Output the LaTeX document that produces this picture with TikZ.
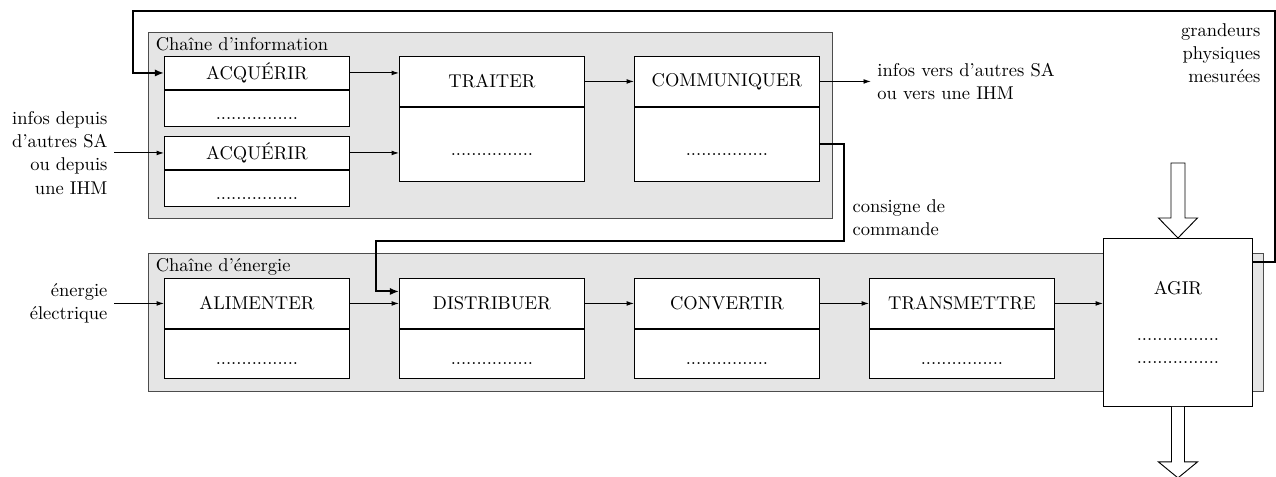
\documentclass[tikz,border=0pt]{standalone}
\usepackage{fontspec}
\usetikzlibrary{calc,arrows.meta}

% one drawing unit
\newcommand{\pxu}{0.5405pt}
% dotted placeholder line, lowered under the block centre
\newcommand{\pointille}{\raisebox{-6pt}[0pt][0pt]{................}}
% function block: name, x, y top, top height, bottom height, title
\newcommand{\blocfonction}[6]{%
  \node[fonction, anchor=north west, minimum height={#4*\pxu}] (#1) at (#2,#3) {#6};
  \node[fonction, anchor=north, minimum height={#5*\pxu}] (#1b) at (#1.south) {\pointille};
}

\begin{document}
\begin{tikzpicture}[x=\pxu, y=-\pxu,
  font=\fontsize{10}{12.5}\selectfont,
  fonction/.style={draw, fill=white, line width=0.5pt, minimum width={185*\pxu}, inner sep=0pt},
  groupe/.style={draw=black!70, fill=black!10, line width=0.6pt, inner sep=0pt},
  fleche/.style={-{Latex[length=4pt,width=2.6pt]}, line width=0.5pt},
  retour/.style={-{Latex[length=5pt,width=4pt]}, line width=1.1pt},
  creuse/.style={draw, fill=white, line width=0.5pt},
  titre/.style={anchor=north west, inner xsep=4pt, inner ysep=3pt}]

\useasboundingbox (0,0) rectangle (1276,477);

% the two chains
\node[groupe, anchor=north west, minimum width={684*\pxu}, minimum height={186*\pxu}] (info) at (148,32) {};
\node[titre] (infot) at (info.north west) {Chaîne d'information};
\node[groupe, anchor=north west, minimum width={1115*\pxu}, minimum height={138*\pxu}] (ener) at (148,253) {};
\node[titre] (enert) at (ener.north west) {Chaîne d'énergie};

% information chain
\blocfonction{acqA}{164}{56}{33}{36}{ACQUÉRIR}
\blocfonction{acqB}{164}{136}{33}{36}{ACQUÉRIR}
\blocfonction{trt}{399}{56}{50}{74}{TRAITER}
\blocfonction{com}{634}{56}{50}{74}{COMMUNIQUER}

% energy chain
\blocfonction{ali}{164}{278}{50}{49}{ALIMENTER}
\blocfonction{dis}{399}{278}{50}{49}{DISTRIBUER}
\blocfonction{cnv}{634}{278}{50}{49}{CONVERTIR}
\blocfonction{tra}{869}{278}{50}{49}{TRANSMETTRE}

% actuator
\node[fonction, minimum width={149*\pxu}, minimum height={168*\pxu}, anchor=north west, align=center] (agir) at (1103,238)
  {AGIR\\[12.5pt]................\\................};

% information flow
\draw[fleche] (acqA.east) -- (acqA.east -| trt.west);
\draw[fleche] (acqB.east) -- (acqB.east -| trt.west);
\draw[fleche] (trt.east) -- (com.west);
\node[anchor=west, align=left] (versSA) at ($(com.east)+(51,0)$) {infos vers d'autres SA\\ou vers une IHM};
\draw[fleche] (com.east) -- (versSA.west);
\node[anchor=east, align=right] (depuisSA) at ($(acqB.west)+(-50,0)$) {infos depuis\\d'autres SA\\ou depuis\\une IHM};
\draw[fleche] (depuisSA.east) -- (acqB.west);

% energy flow
\node[anchor=east, align=right] (elec) at ($(ali.west)+(-50,0)$) {énergie\\électrique};
\draw[fleche] (elec.east) -- (ali.west);
\draw[fleche] (ali.east) -- (dis.west);
\draw[fleche] (dis.east) -- (cnv.west);
\draw[fleche] (cnv.east) -- (tra.west);
\draw[fleche] (tra.east) -- (tra.east -| agir.west);

% command order
\coordinate (cA) at (844,241);
\coordinate (cB) at (376,241);
\coordinate (disIn) at ($(dis.west)+(0,-12)$);
\draw[retour] (comb.east) -| (cA) -- (cB) |- (disIn);
\node[anchor=north west, align=left] (consigne) at (846,193) {consigne de\\commande};

% measured quantities fed back
\coordinate (fbA) at ($(agir.north east)+(0,24)$);
\coordinate (fbB) at (1275,11);
\coordinate (fbC) at (133,11);
\draw[retour] (fbA) -| (fbB) -- (fbC) |- (acqA.west);
\node[anchor=north east, align=right] (grandeurs) at (1267,17) {grandeurs\\physiques\\mesurées};

% hollow arrows in and out of the actuator
\draw[creuse, shift={(agir.north)}] (-7,-75) -- (-7,-20) -- (-19.5,-20) -- (0,0) -- (19.5,-20) -- (7,-20) -- (7,-75) -- cycle;
\draw[creuse, shift={(agir.south)}] (-6.5,0) -- (-6.5,55) -- (-19.5,55) -- (0,71) -- (19.5,55) -- (6.5,55) -- (6.5,0);

\end{tikzpicture}
\end{document}
